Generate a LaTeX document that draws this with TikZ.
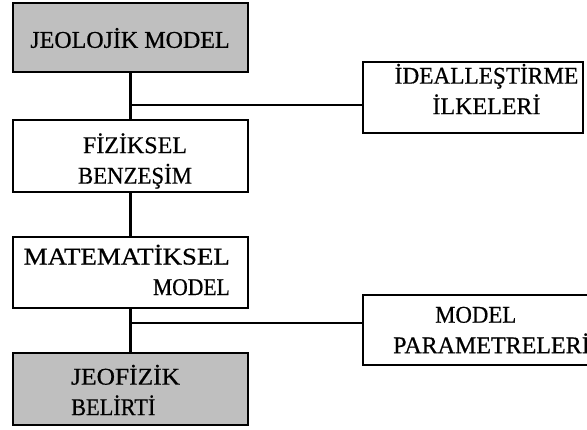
\documentclass[tikz,border=0pt]{standalone}
\usepackage{fontspec}
\usepackage{graphicx}
\setmainfont{Liberation Serif}
\newfontfamily\taramafont{Liberation Serif}[FakeBold=0.6]
\usetikzlibrary{positioning}

\tikzset{
  blok/.style={draw, line width=2.2pt, minimum width=235pt, minimum height=71pt, inner sep=0pt},
  golgeli/.style={blok, fill=black!25},
  yazi/.style={font=\taramafont\fontsize{24}{30.5}\selectfont, inner sep=0pt},
  hat/.style={line width=2.2pt}
}

\begin{document}
\begin{tikzpicture}[x=1pt, y=-1pt]
    \useasboundingbox (0,0) rectangle (587,430);
    \clip (0,0) rectangle (587,430);

    % --- Left column: model chain ---
    \node[golgeli, minimum height=69pt] (jeoloji) at (130.5,37.5) {};
    \node[blok, minimum height=72pt] (fizik) at (130.5,156) {};
    \node[blok] (matematik) at (130.5,272.5) {};
    \node[golgeli, minimum height=72pt] (jeofizik) at (130.5,389) {};

    % texts of the left column
    \node[yazi] (jeoloji-t) at (130,38) {JEOLOJİK MODEL};
    \node[yazi, align=center] (fizik-t) at (135,161) {FİZİKSEL\\\scalebox{0.95}[1]{BENZEŞİM}};
    \node[yazi, align=right, anchor=east] (matematik-t) at (230,270)
        {\scalebox{1.12}[1]{MATEMATİKSEL}\\\scalebox{0.9}[1]{MODEL}};
    \node[yazi, align=left, anchor=west] (jeofizik-t) at (71,390)
        {\scalebox{1.06}[1]{JEOFİZİK}\\\scalebox{0.93}[1]{BELİRTİ}};

    % --- Right column: inputs ---
    \node[blok, minimum width=220pt] (ideal) at (473,97.5) {};
    \node[blok, minimum width=247pt, minimum height=70pt] (param) at (486.5,330) {};

    \node[yazi, align=center] (ideal-t) at (486.5,89) {\scalebox{0.97}[1]{İDEALLEŞTİRME}\\İLKELERİ};
    \node[yazi, align=left, anchor=west] (param-t) at (393,330)
        {\hspace*{42pt}\scalebox{0.95}[1]{MODEL}\\PARAMETRELERİ};

    % --- Connectors ---
    \draw[hat] (jeoloji) -- (fizik) -- (matematik) -- (jeofizik);
    \coordinate (dal1) at (130.5,105);
    \coordinate (dal2) at (130.5,323);
    \draw[hat] (dal1) -- (dal1 -| ideal.west);
    \draw[hat] (dal2) -- (dal2 -| param.west);

\end{tikzpicture}
\end{document}
